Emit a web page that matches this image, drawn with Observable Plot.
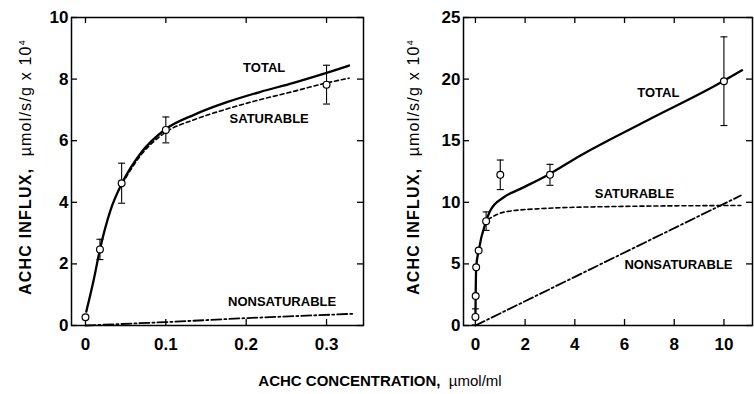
<!DOCTYPE html>
<html>
<head>
<meta charset="utf-8">
<script src="https://cdn.jsdelivr.net/npm/d3@7"></script>
<script src="https://cdn.jsdelivr.net/npm/@observablehq/plot@0.6"></script>
<style>
  body { margin: 0; background: #fff; }
  #wrap { position: relative; width: 754px; height: 394px; font-family: "Liberation Sans", Arial, sans-serif; color: #000; }
  .panel { position: absolute; top: 0; }
  .ylab { position: absolute; white-space: nowrap; font-size: 16px; transform: translate(-50%, -50%) rotate(-90deg); letter-spacing: 1.2px; }
  .xlab { position: absolute; white-space: nowrap; font-size: 15px; transform: translate(-50%, -50%); }
  .b { font-weight: bold; }
</style>
</head>
<body>
<div id="wrap">
  <div id="left" class="panel" style="left:0px"></div>
  <div id="right" class="panel" style="left:377px"></div>
  <div class="ylab" style="left:26px; top:167px"><span class="b">ACHC INFLUX,</span>&nbsp;&nbsp;µmol/s/g x 10<sup style="font-size:9px">4</sup></div>
  <div class="ylab" style="left:414px; top:167px"><span class="b">ACHC INFLUX,</span>&nbsp;&nbsp;µmol/s/g x 10<sup style="font-size:9px">4</sup></div>
  <div class="xlab" style="left:380px; top:380px"><span class="b">ACHC CONCENTRATION,</span>&nbsp;&nbsp;µmol/ml</div>
</div>
<script>
// ---------- Left panel (low concentration range) ----------
const leftConc   = [0, 0.018, 0.045, 0.1, 0.3];
const leftInflux = [0.27, 2.47, 4.62, 6.35, 7.82];
const leftErr    = [0, 0.33, 0.65, 0.42, 0.63];

const leftTotalX = [0.001, 0.01, 0.018, 0.031, 0.0455, 0.068, 0.1, 0.135, 0.176, 0.217, 0.259, 0.296, 0.328];
const leftTotalY = [0.45, 1.45, 2.47, 3.73, 4.62, 5.57, 6.38, 6.84, 7.25, 7.58, 7.88, 8.17, 8.44];
const leftSatX   = [0.0455, 0.068, 0.1, 0.135, 0.176, 0.217, 0.259, 0.296, 0.328];
const leftSatY   = [4.6, 5.5, 6.28, 6.68, 7.03, 7.33, 7.6, 7.85, 8.03];
const leftNonX   = [0, 0.1, 0.2, 0.332];
const leftNonY   = [0, 0.11, 0.24, 0.38];

const leftXTicks = [0, 0.1, 0.2, 0.3];
const leftYTicks = [0, 2, 4, 6, 8, 10];
const leftLabels = ["TOTAL", "SATURABLE", "NONSATURABLE"];
const leftLabelX = [0.2224, 0.2286, 0.2447];
const leftLabelY = [8.36, 6.72, 0.76];

// ---------- Right panel (full concentration range) ----------
const rightConc   = [0, 0.01, 0.03, 0.13, 0.43, 1, 3, 10];
const rightInflux = [0.7, 2.4, 4.73, 6.09, 8.47, 12.23, 12.23, 19.83];
const rightErr    = [0.65, 0, 0, 0, 0.75, 1.2, 0.85, 3.6];

const rightTotalX = [0, 0.01, 0.03, 0.13, 0.43, 0.6, 1.14, 1.81, 2.88, 4.23, 6.91, 9.73, 10.73];
const rightTotalY = [0.7, 2.4, 4.73, 6.09, 8.47, 9.33, 10.41, 11.09, 12.18, 13.8, 16.64, 19.56, 20.72];
const rightSatX   = [0.5, 1.14, 2.48, 5.7, 10.68];
const rightSatY   = [8.6, 9.2, 9.47, 9.66, 9.74];
const rightNonX   = [0, 4, 10.68];
const rightNonY   = [0, 3.95, 10.55];

const rightXTicks = [0, 2, 4, 6, 8, 10];
const rightYTicks = [0, 5, 10, 15, 20, 25];
const rightLabels = ["TOTAL", "SATURABLE", "NONSATURABLE"];
const rightLabelX = [7.36, 6.40, 8.17];
const rightLabelY = [18.87, 10.71, 4.91];

// ---------- helpers ----------
const zipXY = (xs, ys) => xs.map((x, i) => ({x, y: ys[i]}));
const capSymbol = {
  draw(context, size) {
    const w = Math.sqrt(size / Math.PI);
    context.moveTo(-w, 0);
    context.lineTo(w, 0);
  }
};
const plain = d => String(d);

function makePanel(cfg) {
  const width = 377, height = 360;
  const marginTop = 17, marginBottom = 35;
  const frameH = height - marginTop - marginBottom;
  const frameW = width - cfg.marginLeft - cfg.marginRight;
  const pts = cfg.conc.map((c, i) => ({x: c, y: cfg.influx[i], e: cfg.err[i]}));
  const bars = pts.filter(d => d.e > 0);
  const labs = cfg.labels.map((t, i) => ({t, x: cfg.labelX[i], y: cfg.labelY[i]}));
  const tick = 6;
  return Plot.plot({
    width, height,
    marginTop, marginBottom,
    marginLeft: cfg.marginLeft, marginRight: cfg.marginRight,
    style: {fontFamily: '"Liberation Sans", Arial, sans-serif', fontSize: "17px", fontWeight: "bold", color: "#000", background: "transparent", overflow: "visible"},
    x: {domain: cfg.xDomain},
    y: {domain: cfg.yDomain},
    marks: [
      Plot.frame({stroke: "#000", strokeWidth: 1.5}),
      // inward ticks on all four sides
      Plot.ruleX(cfg.xTicks, {stroke: "#000", strokeWidth: 1.3, insetTop: frameH - tick}),
      Plot.ruleX(cfg.xTicks, {stroke: "#000", strokeWidth: 1.3, insetBottom: frameH - tick}),
      Plot.ruleY(cfg.yTicks, {stroke: "#000", strokeWidth: 1.3, insetRight: frameW - tick}),
      Plot.ruleY(cfg.yTicks, {stroke: "#000", strokeWidth: 1.3, insetLeft: frameW - tick}),
      Plot.axisX(cfg.xTicks, {anchor: "bottom", tickSize: 0, tickPadding: 12, label: null, tickFormat: plain, fontSize: 17, fontWeight: "bold"}),
      Plot.axisY(cfg.yTicks, {anchor: "left", tickSize: 0, tickPadding: 3, label: null, tickFormat: plain, fontSize: 17, fontWeight: "bold"}),
      // curves
      Plot.line(zipXY(cfg.nonX, cfg.nonY), {x: "x", y: "y", stroke: "#000", strokeWidth: 1.8, strokeDasharray: "10,3,2,3"}),
      Plot.line(zipXY(cfg.satX, cfg.satY), {x: "x", y: "y", curve: "monotone-x", stroke: "#000", strokeWidth: 1.6, strokeDasharray: "4,3"}),
      Plot.line(zipXY(cfg.totX, cfg.totY), {x: "x", y: "y", curve: "monotone-x", stroke: "#000", strokeWidth: 2.3}),
      // error bars
      Plot.ruleX(bars, {x: "x", y1: d => d.y - d.e, y2: d => d.y + d.e, stroke: "#000", strokeWidth: 1.1}),
      Plot.dot(bars, {x: "x", y: d => d.y + d.e, symbol: capSymbol, r: 3.5, fill: "none", stroke: "#000", strokeWidth: 1.1}),
      Plot.dot(bars, {x: "x", y: d => d.y - d.e, symbol: capSymbol, r: 3.5, fill: "none", stroke: "#000", strokeWidth: 1.1}),
      // data points
      Plot.dot(pts, {x: "x", y: "y", r: 3.4, fill: "#fff", stroke: "#000", strokeWidth: 1.2}),
      // curve labels
      Plot.text(labs, {x: "x", y: "y", text: "t", fontSize: 13, fontWeight: "bold", fill: "#000"})
    ]
  });
}

document.getElementById("left").appendChild(makePanel({
  marginLeft: 71, marginRight: 14,
  xDomain: [-0.0174, 0.346], yDomain: [0, 10],
  xTicks: leftXTicks, yTicks: leftYTicks,
  conc: leftConc, influx: leftInflux, err: leftErr,
  totX: leftTotalX, totY: leftTotalY, satX: leftSatX, satY: leftSatY, nonX: leftNonX, nonY: leftNonY,
  labels: leftLabels, labelX: leftLabelX, labelY: leftLabelY
}));

document.getElementById("right").appendChild(makePanel({
  marginLeft: 86, marginRight: 2,
  xDomain: [-0.48, 11.15], yDomain: [0, 25],
  xTicks: rightXTicks, yTicks: rightYTicks,
  conc: rightConc, influx: rightInflux, err: rightErr,
  totX: rightTotalX, totY: rightTotalY, satX: rightSatX, satY: rightSatY, nonX: rightNonX, nonY: rightNonY,
  labels: rightLabels, labelX: rightLabelX, labelY: rightLabelY
}));
</script>
</body>
</html>
